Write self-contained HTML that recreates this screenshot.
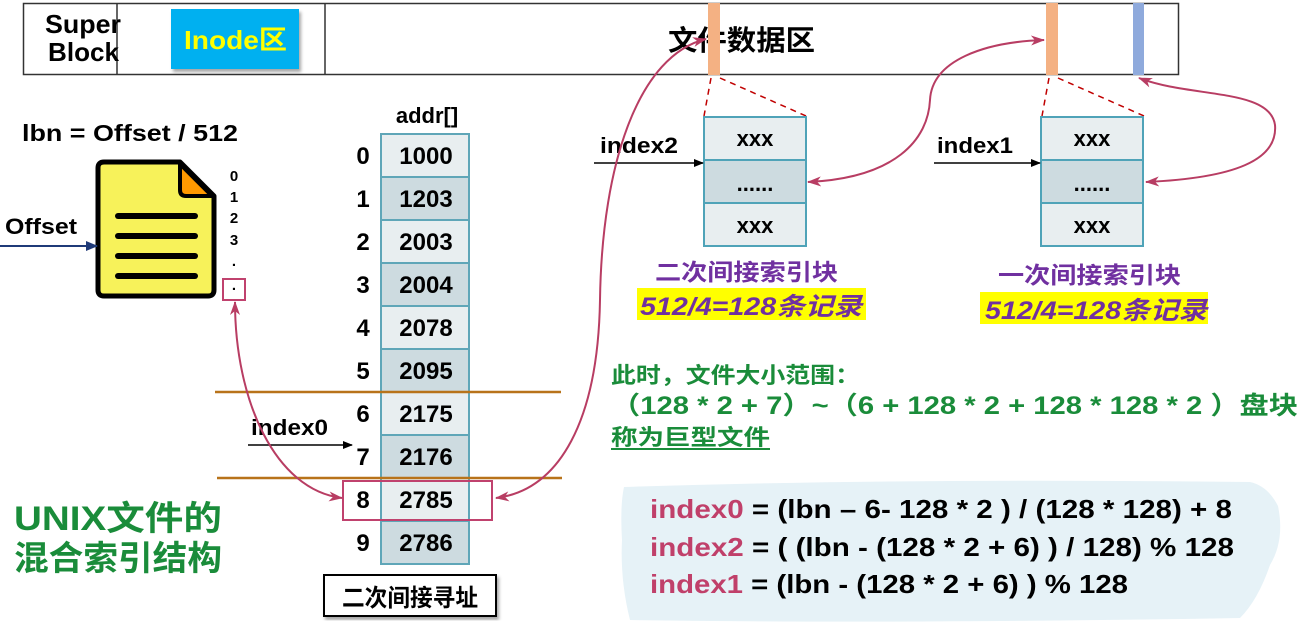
<!DOCTYPE html>
<html><head><meta charset="utf-8"><style>
body{margin:0;background:#fff;}
svg{display:block;font-family:"Liberation Sans","Noto Sans CJK SC",sans-serif;font-weight:bold;}
</style></head><body>
<svg width="1304" height="624" viewBox="0 0 1304 624" xmlns="http://www.w3.org/2000/svg">
<defs>
<marker id="ar" markerWidth="10" markerHeight="8" refX="9" refY="4" orient="auto" markerUnits="userSpaceOnUse"><path d="M0,0 L10,4 L0,8 z" fill="#000"/></marker>
<marker id="an" markerWidth="12" markerHeight="10" refX="11" refY="5" orient="auto" markerUnits="userSpaceOnUse"><path d="M0,0 L12,5 L0,10 z" fill="#1f3a78"/></marker>
<marker id="ap" markerWidth="14" markerHeight="10" refX="13" refY="5" orient="auto-start-reverse" markerUnits="userSpaceOnUse"><path d="M0,0 L14,5 L0,10 L4,5 z" fill="#b83d63"/></marker>
<filter id="sh"><feDropShadow dx="2" dy="3" stdDeviation="1.5" flood-opacity="0.35"/></filter>
</defs>

<rect x="23.5" y="3.5" width="1155" height="71" fill="#fff" stroke="#333" stroke-width="1.5"/>
<line x1="117" y1="4" x2="117" y2="74" stroke="#333" stroke-width="1.5"/>
<line x1="325" y1="4" x2="325" y2="74" stroke="#333" stroke-width="1.5"/>
<text x="45" y="33" font-size="26" textLength="76" lengthAdjust="spacingAndGlyphs">Super</text>
<text x="48" y="61" font-size="26" textLength="71" lengthAdjust="spacingAndGlyphs">Block</text>
<rect x="171" y="9" width="128" height="60" fill="#00b0f0" filter="url(#sh)"/>
<text x="184" y="49" font-size="26" fill="#ffff00" textLength="103" lengthAdjust="spacingAndGlyphs">Inode区</text>
<text x="668" y="50" font-size="28" textLength="147" lengthAdjust="spacingAndGlyphs">文件数据区</text>
<rect x="708" y="3" width="12" height="72" fill="#f4b183"/>
<rect x="1046" y="3" width="12" height="72" fill="#f4b183"/>
<rect x="1133" y="3" width="11" height="72" fill="#8faadc"/>

<g stroke="#c00000" stroke-width="1.5" stroke-dasharray="6,5" fill="none">
<line x1="711" y1="78" x2="704" y2="116"/><line x1="720" y1="78" x2="806" y2="116"/>
<line x1="1049" y1="78" x2="1042" y2="116"/><line x1="1058" y1="78" x2="1144" y2="116"/>
</g>

<g stroke="#4fa3b8" stroke-width="2">
<rect x="704" y="117" width="102" height="43" fill="#e8eef0"/>
<rect x="704" y="160" width="102" height="43" fill="#cddbe0"/>
<rect x="704" y="203" width="102" height="43" fill="#e8eef0"/>
<rect x="1041" y="117" width="102" height="43" fill="#e8eef0"/>
<rect x="1041" y="160" width="102" height="43" fill="#cddbe0"/>
<rect x="1041" y="203" width="102" height="43" fill="#e8eef0"/>
</g>
<g font-size="22" text-anchor="middle">
<text x="755" y="146">xxx</text><text x="755" y="191">......</text><text x="755" y="233">xxx</text>
<text x="1092" y="146">xxx</text><text x="1092" y="191">......</text><text x="1092" y="233">xxx</text>
</g>
<text x="600" y="153" font-size="22" textLength="78" lengthAdjust="spacingAndGlyphs">index2</text>
<line x1="594" y1="163" x2="703" y2="163" stroke="#000" stroke-width="1.5" marker-end="url(#ar)"/>
<text x="937" y="153" font-size="22" textLength="76" lengthAdjust="spacingAndGlyphs">index1</text>
<line x1="934" y1="163" x2="1040" y2="163" stroke="#000" stroke-width="1.5" marker-end="url(#ar)"/>

<text x="655" y="280" font-size="23" fill="#7030a0" textLength="183" lengthAdjust="spacingAndGlyphs">二次间接索引块</text>
<rect x="637" y="288" width="229" height="32" fill="#ffff00"/>
<text x="640" y="315" font-size="25" fill="#7030a0" font-style="italic" textLength="222" lengthAdjust="spacingAndGlyphs">512/4=128条记录</text>
<text x="998" y="283" font-size="23" fill="#7030a0" textLength="183" lengthAdjust="spacingAndGlyphs">一次间接索引块</text>
<rect x="980" y="292" width="228" height="32" fill="#ffff00"/>
<text x="985" y="319" font-size="25" fill="#7030a0" font-style="italic" textLength="222" lengthAdjust="spacingAndGlyphs">512/4=128条记录</text>

<text x="22" y="141" font-size="23" textLength="216" lengthAdjust="spacingAndGlyphs">lbn  = Offset / 512</text>
<path d="M104,162 L180,162 L214,196 L214,290 Q214,296 208,296 L104,296 Q98,296 98,290 L98,168 Q98,162 104,162 Z" fill="#f7f25a" stroke="#000" stroke-width="5" stroke-linejoin="round"/>
<path d="M180,164 L180,190 Q180,196 186,196 L212,196 Z" fill="#ff9900" stroke="#000" stroke-width="4" stroke-linejoin="round"/>
<g stroke="#000" stroke-width="6" stroke-linecap="round">
<line x1="118" y1="216" x2="195" y2="216"/><line x1="118" y1="236" x2="195" y2="236"/>
<line x1="118" y1="256" x2="195" y2="256"/><line x1="118" y1="276" x2="195" y2="276"/>
</g>
<g font-size="15" text-anchor="middle">
<text x="234" y="181">0</text><text x="234" y="202">1</text><text x="234" y="223">2</text><text x="234" y="245">3</text>
<text x="234" y="266">.</text><text x="234" y="290">.</text>
</g>
<rect x="223" y="279" width="22" height="21" fill="none" stroke="#c0426e" stroke-width="2"/>
<text x="5" y="234" font-size="22" textLength="72" lengthAdjust="spacingAndGlyphs">Offset</text>
<line x1="0" y1="246" x2="97" y2="246" stroke="#1f3a78" stroke-width="2" marker-end="url(#an)"/>

<text x="427" y="123" font-size="22" text-anchor="middle">addr[]</text>
<g stroke="#5fa6b8" stroke-width="2">
<rect x="381" y="134" width="88" height="43" fill="#e8eef0"/>
<rect x="381" y="177" width="88" height="43" fill="#cddbe0"/>
<rect x="381" y="220" width="88" height="43" fill="#e8eef0"/>
<rect x="381" y="263" width="88" height="43" fill="#cddbe0"/>
<rect x="381" y="306" width="88" height="43" fill="#e8eef0"/>
<rect x="381" y="349" width="88" height="43" fill="#cddbe0"/>
<rect x="381" y="392" width="88" height="43" fill="#e8eef0"/>
<rect x="381" y="435" width="88" height="43" fill="#cddbe0"/>
<rect x="381" y="478" width="88" height="43" fill="#e8eef0"/>
<rect x="381" y="521" width="88" height="43" fill="#cddbe0"/>
</g>
<g font-size="24" text-anchor="middle">
<text x="426" y="164">1000</text><text x="426" y="207">1203</text><text x="426" y="250">2003</text><text x="426" y="293">2004</text><text x="426" y="336">2078</text>
<text x="426" y="379">2095</text><text x="426" y="422">2175</text><text x="426" y="465">2176</text><text x="426" y="508">2785</text><text x="426" y="551">2786</text>
<text x="363" y="164">0</text><text x="363" y="207">1</text><text x="363" y="250">2</text><text x="363" y="293">3</text><text x="363" y="336">4</text>
<text x="363" y="379">5</text><text x="363" y="422">6</text><text x="363" y="465">7</text><text x="363" y="508">8</text><text x="363" y="551">9</text>
</g>
<line x1="215" y1="392" x2="561" y2="392" stroke="#b8731a" stroke-width="2.5"/>
<line x1="217" y1="478" x2="562" y2="478" stroke="#b8731a" stroke-width="2.5"/>
<rect x="343" y="481" width="149" height="39" fill="none" stroke="#c0426e" stroke-width="2"/>
<text x="251" y="435" font-size="22" textLength="77" lengthAdjust="spacingAndGlyphs">index0</text>
<line x1="248" y1="445" x2="352" y2="445" stroke="#000" stroke-width="1.5" marker-end="url(#ar)"/>
<rect x="324" y="575" width="172" height="41" fill="#fff" stroke="#000" stroke-width="2" filter="url(#sh)"/>
<text x="342" y="606" font-size="24" textLength="136" lengthAdjust="spacingAndGlyphs">二次间接寻址</text>

<text x="14" y="530" font-size="34" fill="#1a8c3a" textLength="208" lengthAdjust="spacingAndGlyphs">UNIX文件的</text>
<text x="14" y="570" font-size="34" fill="#1a8c3a" textLength="208" lengthAdjust="spacingAndGlyphs">混合索引结构</text>

<g fill="#1a8c3a">
<text x="611" y="383" font-size="22" textLength="249" lengthAdjust="spacingAndGlyphs">此时，文件大小范围：</text>
<text x="611" y="414" font-size="25" textLength="687" lengthAdjust="spacingAndGlyphs">（128 * 2 + 7）~（6 + 128 * 2 + 128 * 128 * 2 ）盘块</text>
<text x="611" y="445" font-size="22" textLength="159" lengthAdjust="spacingAndGlyphs">称为巨型文件</text>
</g>
<line x1="611" y1="449" x2="770" y2="449" stroke="#1a8c3a" stroke-width="2"/>

<path d="M624,487 Q900,478 1250,482 Q1268,486 1278,506 Q1285,540 1270,565 Q1258,600 1240,618 Q900,624 630,620 Q620,580 622,540 Q620,505 624,487 Z" fill="#e6f2f7"/>
<g font-size="26">
<text x="650" y="518" textLength="582" lengthAdjust="spacingAndGlyphs"><tspan fill="#c0406a">index0</tspan> = (lbn – 6- 128 * 2 ) / (128 * 128) + 8</text>
<text x="650" y="556" textLength="584" lengthAdjust="spacingAndGlyphs"><tspan fill="#c0406a">index2</tspan> = ( (lbn - (128 * 2 + 6) ) / 128) % 128</text>
<text x="650" y="593" textLength="478" lengthAdjust="spacingAndGlyphs"><tspan fill="#c0406a">index1</tspan> = (lbn - (128 * 2 + 6) ) % 128</text>
</g>

<g fill="none" stroke="#b83d63" stroke-width="2">
<path d="M496,498 C560,490 598,420 600,300 C602,160 640,55 706,39" marker-start="url(#ap)" marker-end="url(#ap)"/>
<path d="M235,302 C235,400 275,490 342,498" marker-start="url(#ap)" marker-end="url(#ap)"/>
<path d="M808,182 C895,178 928,140 930,100 C932,60 985,42 1044,40" marker-start="url(#ap)" marker-end="url(#ap)"/>
<path d="M1146,182 C1235,178 1278,160 1275,125 C1270,88 1190,98 1139,78" marker-start="url(#ap)" marker-end="url(#ap)"/>
</g>
</svg>
</body></html>
